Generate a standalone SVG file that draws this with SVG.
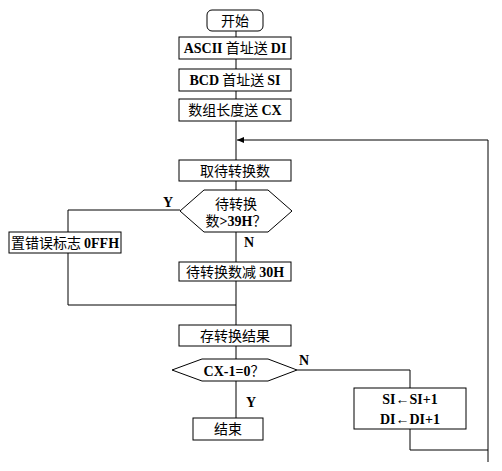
<svg xmlns="http://www.w3.org/2000/svg" width="502" height="471" viewBox="0 0 502 471">
<style>
.box{fill:#fff;stroke:#000;stroke-width:1}
.ln{fill:none;stroke:#000;stroke-width:1}
text{font-family:"Noto Sans CJK SC","Liberation Sans",sans-serif;font-size:14px;fill:#000}
.c{text-anchor:middle}
.b{font-family:"Liberation Serif",serif;font-weight:bold}
</style>
<defs>
<marker id="arr" markerWidth="8" markerHeight="6" refX="7" refY="3" orient="auto" markerUnits="userSpaceOnUse">
<path d="M0,0 L7,3 L0,6 Z" fill="#000"/>
</marker>
</defs>
<g id="connectors">
<line class="ln" x1="236" y1="31" x2="236" y2="37"/>
<line class="ln" x1="236" y1="59" x2="236" y2="69"/>
<line class="ln" x1="236" y1="91" x2="236" y2="99"/>
<line class="ln" x1="236" y1="121" x2="236" y2="160"/>
<line class="ln" x1="236" y1="181" x2="236" y2="190"/>
<line class="ln" x1="236" y1="232" x2="236" y2="262"/>
<line class="ln" x1="236" y1="281" x2="236" y2="325"/>
<line class="ln" x1="236" y1="346" x2="236" y2="359"/>
<line class="ln" x1="236" y1="381" x2="236" y2="418"/>
<polyline class="ln" points="180,210 68,210 68,232"/>
<polyline class="ln" points="68,253 68,305 236,305"/>
<polyline class="ln" points="297,370 410,370 410,388"/>
<polyline class="ln" points="410,429 410,450 488,450"/>
<line class="ln" x1="488" y1="462" x2="488" y2="140"/>
<line class="ln" x1="488" y1="140" x2="237" y2="140" marker-end="url(#arr)"/>
<text class="b" x="163" y="207">Y</text>
<text class="b" x="244" y="247">N</text>
<text class="b" x="299" y="365">N</text>
<text class="b" x="246" y="407">Y</text>
</g>
<g id="start">
<rect class="box" x="207" y="10" width="56" height="21" rx="5"/>
<text class="c" x="235" y="26">开始</text>
</g>
<g id="ascii">
<rect class="box" x="179" y="37" width="112" height="22"/>
<text class="c" x="235" y="53"><tspan class="b">ASCII</tspan> 首址送 <tspan class="b">DI</tspan></text>
</g>
<g id="bcd">
<rect class="box" x="179" y="69" width="112" height="22"/>
<text class="c" x="235" y="85"><tspan class="b">BCD</tspan> 首址送 <tspan class="b">SI</tspan></text>
</g>
<g id="len">
<rect class="box" x="179" y="99" width="112" height="22"/>
<text class="c" x="235" y="115">数组长度送 <tspan class="b">CX</tspan></text>
</g>
<g id="fetch">
<rect class="box" x="179" y="160" width="112" height="21"/>
<text class="c" x="235" y="176">取待转换数</text>
</g>
<g id="check39">
<polygon class="box" points="180,211 204,190 268,190 292,211 268,232 204,232"/>
<text class="c" x="236" y="209">待转换</text>
<text class="c" x="236" y="226">数<tspan class="b">&gt;39H</tspan>？</text>
</g>
<g id="err">
<rect class="box" x="9" y="232" width="112" height="21"/>
<text class="c" x="65" y="248">置错误标志 <tspan class="b">0FFH</tspan></text>
</g>
<g id="sub30">
<rect class="box" x="179" y="262" width="112" height="19"/>
<text class="c" x="235" y="277">待转换数减 <tspan class="b">30H</tspan></text>
</g>
<g id="store">
<rect class="box" x="179" y="325" width="112" height="21"/>
<text class="c" x="235" y="341">存转换结果</text>
</g>
<g id="cxcheck">
<polygon class="box" points="172,370 202,359 268,359 297,370 268,381 202,381"/>
<text class="c" x="234" y="376"><tspan class="b">CX-1=0</tspan>？</text>
</g>
<g id="inc">
<rect class="box" x="354" y="388" width="112" height="41"/>
<text class="c b" x="410" y="404">SI←SI+1</text>
<text class="c b" x="410" y="424">DI←DI+1</text>
</g>
<g id="end">
<rect class="box" x="193" y="418" width="70" height="22"/>
<text class="c" x="228" y="434">结束</text>
</g>
</svg>
